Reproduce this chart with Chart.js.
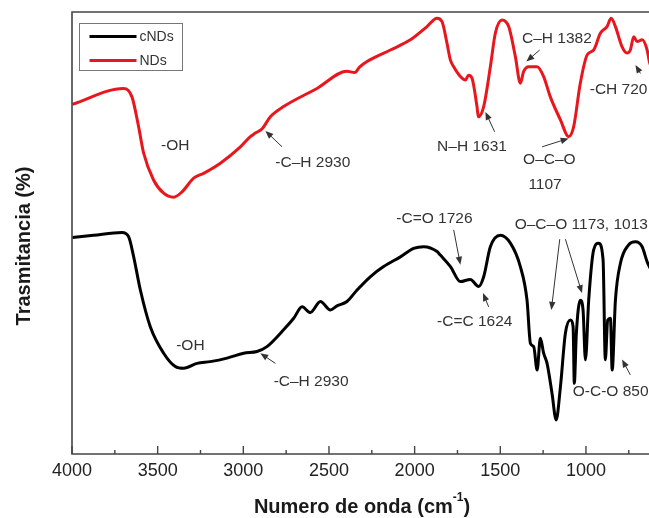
<!DOCTYPE html>
<html>
<head>
<meta charset="utf-8">
<script src="https://cdn.jsdelivr.net/npm/chart.js@4.4.0/dist/chart.umd.min.js"></script>
<style>
  html, body { margin: 0; padding: 0; background: #fff; overflow: hidden; }
  #ftirChart { display: block; }
</style>
</head>
<body>
<canvas id="ftirChart" width="649" height="518"></canvas>
<script>
// FTIR spectra, wavenumber (cm-1) vs transmittance (arbitrary, 0-100)
const ndsWave = [3998, 3699, 3650, 3611, 3582, 3524, 3465, 3407, 3358, 3290,
    3232, 3134, 3017, 2959, 2930, 2890, 2842, 2765, 2570, 2395,
    2350, 2320, 2278, 2142, 2025, 1928, 1869, 1840, 1811, 1791,
    1772, 1733, 1704, 1685, 1665, 1636, 1628, 1597, 1558, 1529,
    1490, 1451, 1412, 1383, 1364, 1334, 1285, 1247, 1208, 1149,
    1101, 1072, 1033, 993, 955, 916, 877, 853, 828, 789,
    760, 741, 721, 702, 672, 643, 630, 600];
const ndsValue = [79.1, 82.7, 80.8, 74.0, 68.1, 62.0, 59.0, 58.1, 59.3, 62.4,
    63.5, 65.8, 69.5, 71.8, 72.6, 73.6, 76.3, 78.6, 82.7, 86.6,
    86.3, 87.6, 88.8, 91.4, 93.7, 96.7, 98.6, 97.8, 92.9, 89.1,
    87.6, 85.4, 84.6, 85.7, 85.0, 78.6, 76.3, 78.6, 87.6, 95.2,
    98.2, 96.7, 89.9, 83.9, 86.5, 87.6, 87.6, 85.4, 80.8, 75.6,
    71.8, 74.0, 83.9, 90.3, 91.4, 95.2, 96.7, 98.6, 96.7, 92.1,
    90.7, 91.4, 94.4, 93.3, 93.7, 91.4, 88.8, 86.0];

const cndsWave = [3998, 3874, 3708, 3670, 3640, 3601, 3543, 3465, 3397, 3348,
    3270, 3193, 3095, 2998, 2920, 2862, 2765, 2706, 2657, 2609,
    2550, 2492, 2453, 2395, 2336, 2259, 2181, 2083, 2006, 1947,
    1869, 1850, 1791, 1733, 1675, 1626, 1597, 1558, 1500, 1441,
    1383, 1344, 1324, 1305, 1285, 1266, 1247, 1227, 1198, 1174,
    1149, 1120, 1091, 1075, 1068, 1056, 1033, 1017, 1003, 984,
    955, 926, 900, 887, 873, 857, 847, 828, 799, 751,
    711, 672, 643, 630, 600];
const cndsValue = [49.0, 49.5, 50.1, 49.2, 44.6, 37.1, 28.8, 22.8, 19.8, 19.4,
    20.5, 20.9, 21.7, 22.8, 23.2, 24.3, 28.1, 30.7, 33.3, 32.0,
    34.5, 32.6, 33.5, 34.5, 37.1, 40.1, 42.4, 44.6, 46.5, 46.9,
    45.8, 45.0, 42.4, 39.0, 39.5, 37.9, 40.1, 46.9, 49.5, 47.7,
    42.4, 34.8, 25.0, 24.3, 19.0, 26.2, 22.8, 20.5, 13.7, 7.7,
    15.2, 27.3, 30.3, 28.8, 16.0, 27.3, 34.8, 32.6, 21.3, 34.8,
    46.2, 47.7, 43.9, 21.3, 30.3, 30.7, 19.0, 34.8, 43.1, 47.3,
    48.0, 46.9, 43.5, 42.4, 40.0];

const seriesNames = ['cNDs', 'NDs'];
const xTicks = [4000, 3500, 3000, 2500, 2000, 1500, 1000];
// the visible window stops at ~632 cm-1 (the original figure is cropped on the right)
const xMin = 632, xMax = 4000, xStep = 500, xMinorStep = 250;

// peak labels: text, anchor [wavenumber, value], optional arrow [tail, head]
const notes = [
    { text: '-OH', at: [3397, 69.7], align: 'center' },
    { text: '-C\u2013H 2930', at: [2813, 65.8], arrow: [[2774, 69.5], [2871, 73.1]] },
    { text: 'N\u2013H 1631', at: [1869, 69.5], arrow: [[1533, 72.9], [1587, 77.4]] },
    { text: 'C\u2013H 1382', at: [1373, 94.0], arrow: [[1270, 91.4], [1348, 88.8]] },
    { text: 'O\u2013C\u2013O', at: [1367, 66.5], arrow: [[1256, 69.5], [1101, 71.4]] },
    { text: '1107', at: [1336, 60.9] },
    { text: '-CH 720', at: [978, 82.5], arrow: [[682, 86.1], [711, 88.0]] },
    { text: '-OH', at: [3309, 24.4], align: 'center' },
    { text: '-C\u2013H 2930', at: [2823, 16.4], arrow: [[2813, 20.5], [2901, 22.8]] },
    { text: '-C=O 1726', at: [2107, 53.2], arrow: [[1772, 50.7], [1733, 42.8]] },
    { text: '-C=C 1624', at: [1869, 29.9], arrow: [[1568, 33.3], [1601, 36.4]] },
    { text: 'O\u2013C\u2013O 1173, 1013', at: [1416, 51.8], arrow: [[1153, 48.6], [1202, 32.6]] },
    { text: '', at: [1416, 51.8], arrow: [[1120, 48.6], [1023, 36.4]] },
    { text: 'O-C-O 850', at: [1077, 14.1], arrow: [[741, 17.9], [789, 21.4]] }
];

const FONT = '"Liberation Sans", Arial, sans-serif';

function toPoints(xs, ys) {
    return xs.map((x, i) => ({ x: x, y: ys[i] }));
}

function drawArrow(ctx, x1, y1, x2, y2) {
    const ang = Math.atan2(y2 - y1, x2 - x1);
    const len = 8, half = 3.2;
    ctx.beginPath();
    ctx.moveTo(x1, y1);
    ctx.lineTo(x2 - Math.cos(ang) * len * 0.8, y2 - Math.sin(ang) * len * 0.8);
    ctx.stroke();
    ctx.beginPath();
    ctx.moveTo(x2, y2);
    ctx.lineTo(x2 - Math.cos(ang) * len - Math.sin(ang) * half, y2 - Math.sin(ang) * len + Math.cos(ang) * half);
    ctx.lineTo(x2 - Math.cos(ang) * len + Math.sin(ang) * half, y2 - Math.sin(ang) * len - Math.cos(ang) * half);
    ctx.closePath();
    ctx.fill();
}

const decorPlugin = {
    id: 'decor',
    afterDraw(chart) {
        const ctx = chart.ctx;
        const area = chart.chartArea;
        const xs = chart.scales.x, ys = chart.scales.y;
        ctx.save();

        // frame: left, top, bottom (right side falls outside the crop)
        ctx.strokeStyle = '#444';
        ctx.lineWidth = 1.6;
        ctx.beginPath();
        ctx.moveTo(area.right + 2, area.top);
        ctx.lineTo(area.left, area.top);
        ctx.lineTo(area.left, area.bottom);
        ctx.lineTo(area.right + 2, area.bottom);
        ctx.stroke();

        // inward ticks on bottom axis
        ctx.lineWidth = 1.4;
        for (let w = xMax; w >= xMin; w -= xMinorStep) {
            const px = xs.getPixelForValue(w);
            const len = (w % xStep === 0) ? 8 : 4;
            ctx.beginPath();
            ctx.moveTo(px, area.bottom);
            ctx.lineTo(px, area.bottom - len);
            ctx.stroke();
        }

        // legend
        const lx = 79.5, ly = 23.5, lw = 103, lh = 47;
        ctx.strokeStyle = '#777';
        ctx.lineWidth = 1;
        ctx.strokeRect(lx, ly, lw, lh);
        ctx.font = '14px ' + FONT;
        ctx.textBaseline = 'middle';
        ctx.textAlign = 'left';
        chart.data.datasets.forEach((ds, i) => {
            const yy = ly + 13 + i * 24;
            ctx.strokeStyle = ds.borderColor;
            ctx.lineWidth = 3;
            ctx.beginPath();
            ctx.moveTo(lx + 10, yy);
            ctx.lineTo(lx + 57, yy);
            ctx.stroke();
            ctx.fillStyle = '#333';
            ctx.fillText(ds.label, lx + 60, yy + 1);
        });

        // peak labels
        ctx.font = '15.5px ' + FONT;
        ctx.fillStyle = '#333';
        ctx.strokeStyle = '#333';
        ctx.lineWidth = 1;
        notes.forEach(n => {
            const px = xs.getPixelForValue(n.at[0]);
            const py = ys.getPixelForValue(n.at[1]);
            ctx.textAlign = n.align || 'left';
            ctx.textBaseline = 'middle';
            if (n.text) ctx.fillText(n.text, px, py);
            if (n.arrow) {
                const t = n.arrow[0], h = n.arrow[1];
                drawArrow(ctx, xs.getPixelForValue(t[0]), ys.getPixelForValue(t[1]),
                    xs.getPixelForValue(h[0]), ys.getPixelForValue(h[1]));
            }
        });

        // axis titles
        ctx.fillStyle = '#1a1a1a';
        ctx.font = 'bold 20px ' + FONT;
        ctx.save();
        ctx.translate(24, (area.top + area.bottom) / 2 + 13);
        ctx.rotate(-Math.PI / 2);
        ctx.textAlign = 'center';
        ctx.textBaseline = 'middle';
        ctx.fillText('Trasmitancia (%)', 0, 0);
        ctx.restore();

        const main = 'Numero de onda (cm', sup = '-1', close = ')';
        ctx.font = 'bold 20px ' + FONT;
        const w1 = ctx.measureText(main).width, w3 = ctx.measureText(close).width;
        ctx.font = 'bold 12px ' + FONT;
        const w2 = ctx.measureText(sup).width;
        let sx = 362 - (w1 + w2 + w3) / 2;
        const by = 507;
        ctx.textAlign = 'left';
        ctx.textBaseline = 'middle';
        ctx.font = 'bold 20px ' + FONT;
        ctx.fillText(main, sx, by);
        ctx.font = 'bold 12px ' + FONT;
        ctx.fillText(sup, sx + w1, by - 9);
        ctx.font = 'bold 20px ' + FONT;
        ctx.fillText(close, sx + w1 + w2, by);

        ctx.restore();
    }
};

new Chart(document.getElementById('ftirChart'), {
    type: 'line',
    data: {
        datasets: [{
            label: seriesNames[0],
            data: toPoints(cndsWave, cndsValue),
            borderColor: '#000000',
            borderWidth: 3,
            pointRadius: 0,
            cubicInterpolationMode: 'monotone'
        }, {
            label: seriesNames[1],
            data: toPoints(ndsWave, ndsValue),
            borderColor: '#e8161d',
            borderWidth: 3,
            pointRadius: 0,
            cubicInterpolationMode: 'monotone'
        }]
    },
    options: {
        responsive: false,
        animation: false,
        devicePixelRatio: 1,
        layout: { padding: { top: 12, left: 0, right: 0, bottom: 0 } },
        plugins: { legend: { display: false }, tooltip: { enabled: false } },
        scales: {
            x: {
                type: 'linear',
                reverse: true,
                min: xMin,
                max: xMax,
                grid: { display: false, drawTicks: false },
                border: { display: false },
                afterBuildTicks: scale => {
                    scale.ticks = xTicks.map(v => ({ value: v }));
                },
                ticks: {
                    autoSkip: false,
                    maxRotation: 0,
                    padding: 6,
                    color: '#222',
                    font: { family: FONT, size: 18 },
                    callback: v => String(v)
                },
                afterFit: scale => { scale.height = 64; }
            },
            y: {
                min: 0,
                max: 100,
                grid: { display: false, drawTicks: false },
                border: { display: false },
                ticks: { display: false },
                afterFit: scale => { scale.width = 72; }
            }
        }
    },
    plugins: [decorPlugin]
});
</script>
</body>
</html>
